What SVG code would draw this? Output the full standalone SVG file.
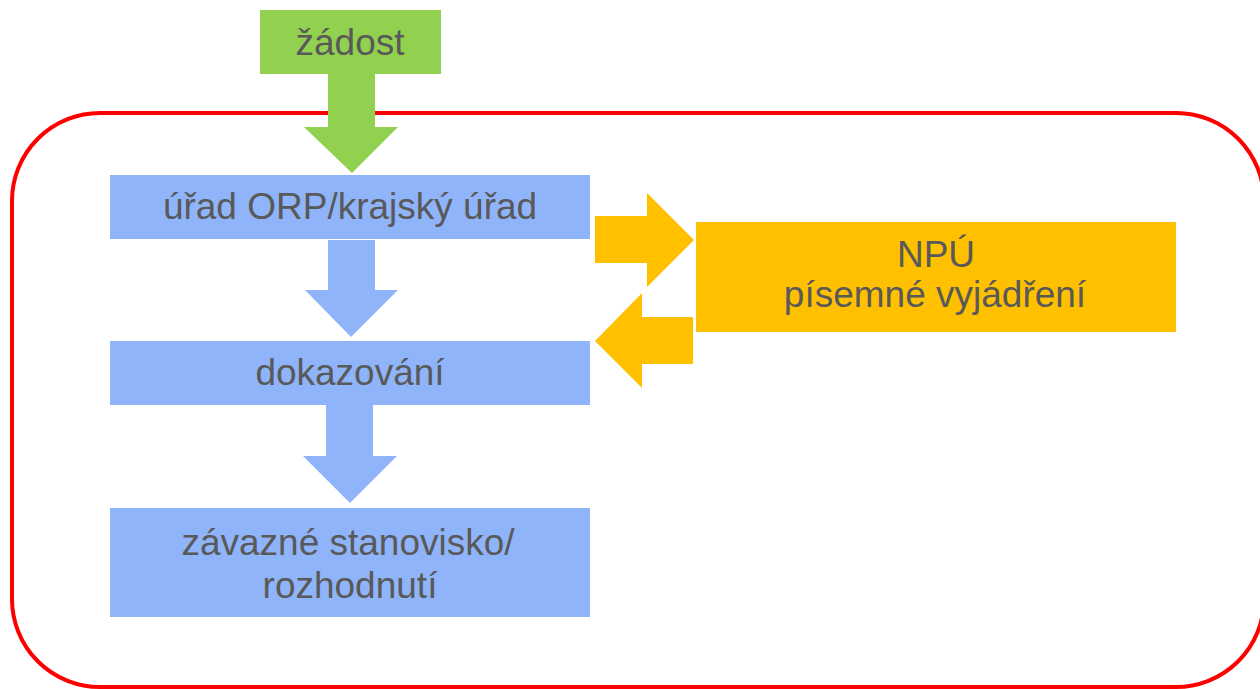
<svg xmlns="http://www.w3.org/2000/svg" width="1260" height="689" viewBox="0 0 1260 689">
<style>
text{font-family:"Liberation Sans",Arial,sans-serif;font-size:37px;fill:#595959;text-anchor:middle}
.g{fill:#92D050}
.b{fill:#8FB4F9}
.o{fill:#FFC000}
</style>
<rect width="1260" height="689" fill="#ffffff"/>
<g id="frame">
<rect x="12" y="113" width="1252" height="574" rx="88" ry="88" fill="none" stroke="#FF0000" stroke-width="4"/>
</g>
<g id="connectors">
<polygon class="g" points="328,74 375,74 375,127 398,127 352,173 304,127 328,127"/>
<polygon class="b" points="328,240 375,240 375,290 398,290 351,337 305,290 328,290"/>
<polygon class="b" points="326,405 373,405 373,456 397,456 350,503 303,456 326,456"/>
<polygon class="o" points="595,216 647,216 647,193 694,240 647,287 647,263 595,263"/>
<polygon class="o" points="693,317 642,317 642,293 595,341 642,388 642,364 693,364"/>
</g>
<g id="zadost">
<rect class="g" x="260" y="10" width="181" height="64"/>
<text x="350" y="55">žádost</text>
</g>
<g id="urad">
<rect class="b" x="110" y="175" width="480" height="64"/>
<text x="350" y="219">úřad ORP/krajský úřad</text>
</g>
<g id="dokazovani">
<rect class="b" x="110" y="341" width="480" height="64"/>
<text x="350" y="385">dokazování</text>
</g>
<g id="stanovisko">
<rect class="b" x="110" y="508" width="480" height="109"/>
<text x="348" y="555">závazné stanovisko/</text>
<text x="350" y="598">rozhodnutí</text>
</g>
<g id="npu">
<rect class="o" x="696" y="222" width="480" height="110"/>
<text x="936" y="267">NPÚ</text>
<text x="935" y="307">písemné vyjádření</text>
</g>
</svg>
